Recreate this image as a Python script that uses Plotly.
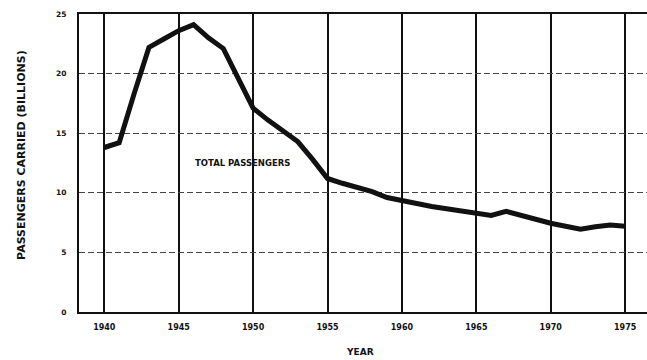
import plotly.graph_objects as go

# Annual passengers carried, in billions
years = list(range(1940, 1976))
passengers = [13.8, 14.2, 18.3, 22.2, 22.9, 23.6, 24.1, 23.0, 22.1, 19.6,
              17.1, 16.1, 15.2, 14.3, 12.8, 11.2, 10.8, 10.5, 10.1, 9.6,
              9.4, 9.1, 8.85, 8.65, 8.45, 8.3, 8.1, 8.45, 8.1, 7.85,
              7.45, 7.2, 6.95, 7.15, 7.3, 7.2]

x_ticks = [1940, 1945, 1950, 1955, 1960, 1965, 1970, 1975]
y_ticks = [0, 5, 10, 15, 20, 25]

FONT = "DejaVu Sans"
INK = "#111111"

fig = go.Figure()
fig.add_trace(go.Scatter(
    x=years, y=passengers, mode="lines",
    line=dict(color=INK, width=5),
    hoverinfo="skip", showlegend=False,
))

fig.update_layout(
    width=647, height=360,
    margin=dict(l=79, r=0, t=14, b=48),
    paper_bgcolor="white", plot_bgcolor="white",
    font=dict(family=FONT, color=INK, size=8, weight="bold"),
    xaxis=dict(
        range=[1938.3, 1976.47],
        tickvals=x_ticks, ticktext=[str(v) for v in x_ticks],
        showgrid=True, gridcolor=INK, gridwidth=2,
        showline=True, linecolor=INK, linewidth=2, mirror=True,
        ticks="", ticklabelstandoff=6,
        tickfont=dict(family=FONT, size=8, color=INK, weight="bold"),
        zeroline=False,
    ),
    yaxis=dict(
        range=[0, 25],
        tickvals=y_ticks, ticktext=[str(v) for v in y_ticks],
        showgrid=True, gridcolor="#444444", gridwidth=1, griddash="6px,3px",
        showline=True, linecolor=INK, linewidth=2,
        ticks="", ticklabelstandoff=9,
        tickfont=dict(family=FONT, size=7.5, color=INK, weight="bold"),
        zeroline=False,
    ),
    annotations=[
        dict(text="PASSENGERS CARRIED (BILLIONS)", textangle=-90,
             xref="paper", yref="paper", x=-0.1004, y=0.527,
             xanchor="center", yanchor="middle", showarrow=False,
             font=dict(family=FONT, size=11, color=INK, weight="bold")),
        dict(text="YEAR", xref="paper", yref="paper", x=0.495, y=-0.134,
             xanchor="center", yanchor="middle", showarrow=False,
             font=dict(family=FONT, size=9, color=INK, weight="bold")),
        dict(text="TOTAL PASSENGERS", xref="x", yref="y", x=1945.98, y=12.5,
             xanchor="left", yanchor="middle", showarrow=False,
             font=dict(family=FONT, size=8.5, color=INK, weight="bold")),
    ],
)

fig.write_html("out.html")
